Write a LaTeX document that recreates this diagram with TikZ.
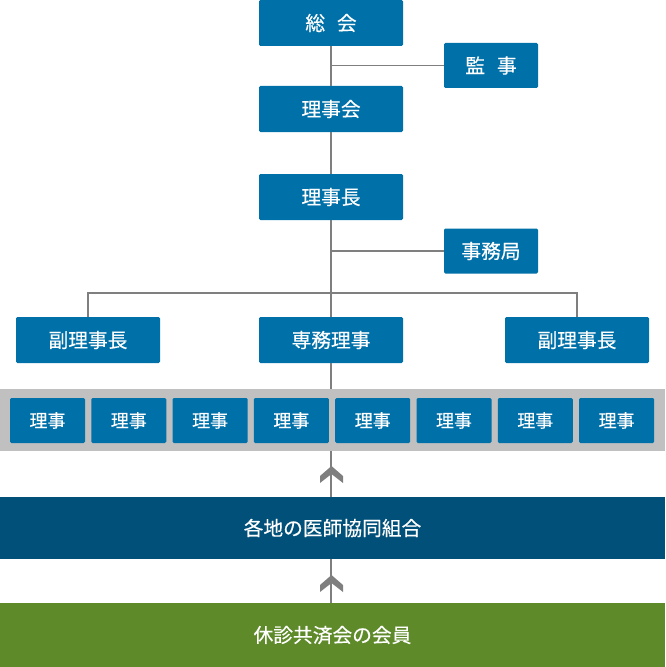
\documentclass[tikz,border=0pt]{standalone}
\usepackage{fontspec}
\newfontfamily\jpfont[FakeBold=0.4]{Noto Sans CJK JP}
\usetikzlibrary{positioning}
\definecolor{boxblue}{HTML}{0070A8}
\definecolor{banddark}{HTML}{00507A}
\definecolor{bandgreen}{HTML}{5E8A2A}
\definecolor{bandgray}{HTML}{C0C0C0}
\definecolor{linegray}{HTML}{7F7F7F}

\begin{document}
\begin{tikzpicture}[x=0.75pt, y=-0.75pt,
    every node/.style={font=\jpfont\fontsize{14.8}{17}\selectfont, text=white, inner sep=0pt},
    post/.style={fill=boxblue, rounded corners=1pt, minimum width=108pt, minimum height=34.5pt},
    sidepost/.style={post, minimum width=70.5pt, minimum height=33.75pt},
    member/.style={post, minimum width=56.25pt, minimum height=33.75pt, font=\jpfont\fontsize{13.5}{16}\selectfont},
    band/.style={minimum width=498.75pt, minimum height=46.5pt},
    link/.style={draw=linegray, line width=0.9pt},
    chevron/.pic={\fill[linegray] (0,0) -- (11.5,10) -- (11.5,17) -- (0,8) -- (-11.5,17) -- (-11.5,10) -- cycle;}]
    \useasboundingbox (0,0) rectangle (665,667);
    \node (soukai) [post] at (331,23) {総\hspace{.6em}会};
    \node (kanji) [sidepost] at (491,65.5) {監\hspace{.6em}事};
    \node (rijikai) [post] at (331,109) {理事会};
    \node (rijicho) [post] at (331,197) {理事長};
    \node (jimukyoku) [sidepost] at (491,251) {事務局};
    \node (fuku1) [post] at (88,340) {副理事長};
    \node (senmu) [post] at (331,340) {専務理事};
    \node (fuku2) [post] at (577,340) {副理事長};
    \coordinate (branch) at (331,293);
    \draw[link] (soukai) -- (rijikai);
    \draw[link] (rijikai) -- (rijicho);
    \draw[link] (rijicho) -- (senmu);
    \draw[link] (soukai.south |- kanji.west) -- (kanji.west);
    \draw[link] (rijicho.south |- jimukyoku.west) -- (jimukyoku.west);
    \draw[link] (fuku1.north) |- (branch) -| (fuku2.north);
    % riji
    \node (rijiband) [band, fill=bandgray, minimum height=46.5pt] at (332.5,420) {};
    \foreach \i in {0,...,7}
        \node (riji\i) [member] at (47.5+81.3*\i,420.5) {理事};
    \draw[link] (senmu.south) -- (senmu.south |- rijiband.north);
    % bands
    \node (kumiai) [band, fill=banddark] at (332.5,528) {各地の医師協同組合};
    \node (kaiin) [band, fill=bandgreen, minimum height=48pt] at (332.5,635) {休診共済会の会員};
    \draw[link] (senmu.south |- rijiband.south) -- (senmu.south |- kumiai.north);
    \draw[link] (senmu.south |- kumiai.south) -- (senmu.south |- kaiin.north);
    \pic at (331.5,466) {chevron};
    \pic at (331.5,575) {chevron};
\end{tikzpicture}
\end{document}
